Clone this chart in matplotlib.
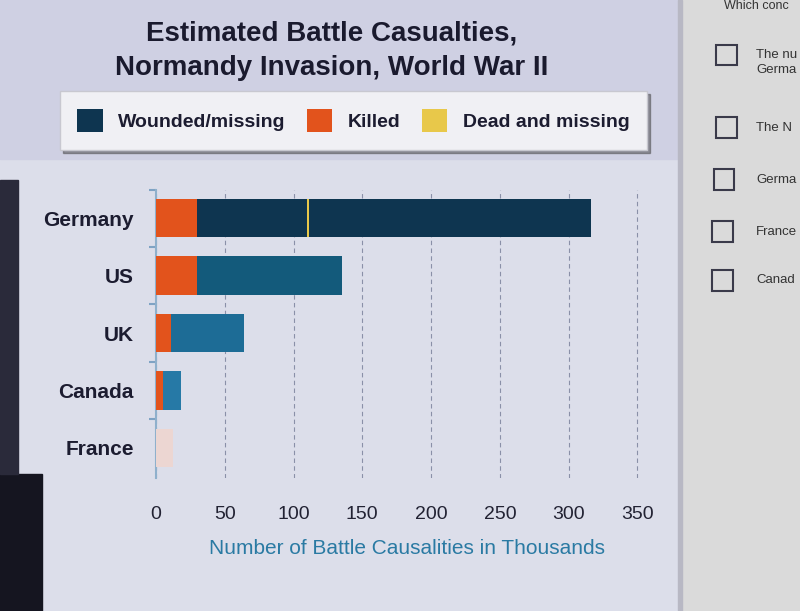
#!/usr/bin/env python3
"""Estimated battle casualties, Normandy invasion - stacked horizontal bars."""

import matplotlib
matplotlib.use("Agg")
import matplotlib.pyplot as plt
from matplotlib.patches import Rectangle

plt.rcParams['font.family'] = ['Liberation Sans', 'DejaVu Sans']

# values in thousands
countries = ["Germany", "US", "UK", "Canada", "France"]
killed = [30, 30, 11, 5, 0]
wounded = [80, 105, 53, 13, 0]
dead_missing = [1.5, 0, 0, 0, 12]
missing = [205, 0, 0, 0, 0]
xticks = [0, 50, 100, 150, 200, 250, 300, 350]

# one shade per row, the photo shows the blue getting lighter down the bars
wound_colors = ["#0e3550", "#135a7b", "#1d6c96", "#2679a6", "#2679a6"]
dm_colors = ["#e8c84a", "#e8c84a", "#e8c84a", "#e8c84a", "#ecd6d2"]
KILLED_C = "#e2531c"

fig = plt.figure(figsize=(8.0, 6.11), dpi=100)
fig.patch.set_facecolor("#dcdeea")

# photo background pieces: lavender top, right question panel, dark bezel
fig.patches.append(Rectangle((0, 0.74), 0.85, 0.26, transform=fig.transFigure,
                             color="#cfd0e3", zorder=0))
fig.patches.append(Rectangle((0.85, 0), 0.15, 1, transform=fig.transFigure,
                             color="#dadada", zorder=0))
fig.patches.append(Rectangle((0.848, 0), 0.004, 1, transform=fig.transFigure,
                             color="#b8b8c4", zorder=1))
fig.patches.append(Rectangle((0, 0), 0.052, 0.225, transform=fig.transFigure,
                             color="#151520", zorder=1))
fig.patches.append(Rectangle((0, 0.225), 0.022, 0.48, transform=fig.transFigure,
                             color="#2a2a3a", zorder=1))

ax = fig.add_axes([0.195, 0.218, 0.6275, 0.471])
ax.set_facecolor("none")

y = range(len(countries))
h = 0.67
b_killed = ax.barh(y, killed, height=h, color=KILLED_C, zorder=3)
left = list(killed)
b_wound = ax.barh(y, wounded, left=left, height=h, color=wound_colors, zorder=3)
left = [a + b for a, b in zip(left, wounded)]
b_dm = ax.barh(y, dead_missing, left=left, height=h, color=dm_colors, zorder=3)
left = [a + b for a, b in zip(left, dead_missing)]
ax.barh(y, missing, left=left, height=h, color=wound_colors, zorder=3)

ax.set_xlim(0, 365)
ax.set_ylim(4.52, -0.49)
ax.set_xticks(xticks)
ax.set_xticklabels([str(v) for v in xticks], fontsize=14, color="#222233")
ax.set_yticks(list(y))
ax.set_yticklabels(countries, fontsize=15, fontweight="bold", color="#1c1c30")
ax.tick_params(axis="x", length=0, pad=20)
ax.tick_params(axis="y", length=0, pad=16)
ax.set_yticks([-0.49, 0.5, 1.5, 2.5, 3.5], minor=True)
ax.tick_params(axis="y", which="minor", length=5, color="#7fa3c4", width=1.5)
for s in ["top", "right", "bottom"]:
    ax.spines[s].set_visible(False)
ax.spines["left"].set_color("#8fb0cc")
ax.spines["left"].set_linewidth(1.5)
ax.grid(axis="x", linestyle=(0, (4, 3)), color="#8a90a8", linewidth=0.8, zorder=1)
ax.set_xlabel("Number of Battle Causalities in Thousands", fontsize=15,
              color="#2a7aa3", labelpad=12)

fig.text(0.415, 0.945, "Estimated Battle Casualties,", ha="center", va="center",
         fontsize=20, fontweight="bold", color="#1a1a2e")
fig.text(0.415, 0.889, "Normandy Invasion, World War II", ha="center", va="center",
         fontsize=20, fontweight="bold", color="#1a1a2e")

fig.legend([b_wound.patches[0], b_killed, b_dm.patches[0]],
           ["Wounded/missing", "Killed", "Dead and missing"],
           loc="center", bbox_to_anchor=(0.442, 0.803), ncol=3,
           prop={"size": 14, "weight": "bold"}, labelcolor="#1c1c30",
           handlelength=1.3, handleheight=1.5, columnspacing=1.1,
           handletextpad=0.8, frameon=True, fancybox=False, shadow=True,
           facecolor="#f0f0f4", edgecolor="#c8c8d0", borderpad=0.9)

# side question panel from the screenshot, cut short at the picture edge
fig.text(0.905, 1.0, "Which conc", fontsize=9, color="#333333", va="top")
boxes = [(0.908, 0.910), (0.908, 0.791), (0.905, 0.706), (0.903, 0.621), (0.903, 0.541)]
labels = ["The nu\nGerma", "The N", "Germa", "France", "Canad"]
for (bx, by), lab in zip(boxes, labels):
    fig.patches.append(Rectangle((bx - 0.013, by - 0.017), 0.026, 0.034,
                                 transform=fig.transFigure, fill=False,
                                 edgecolor="#3a3a4a", linewidth=1.5, zorder=3))
    fig.text(0.945, by - 0.012 if "\n" in lab else by, lab, fontsize=9.5,
             color="#333333", va="center", linespacing=1.3)

fig.savefig("out.png", dpi=100, facecolor=fig.get_facecolor())
